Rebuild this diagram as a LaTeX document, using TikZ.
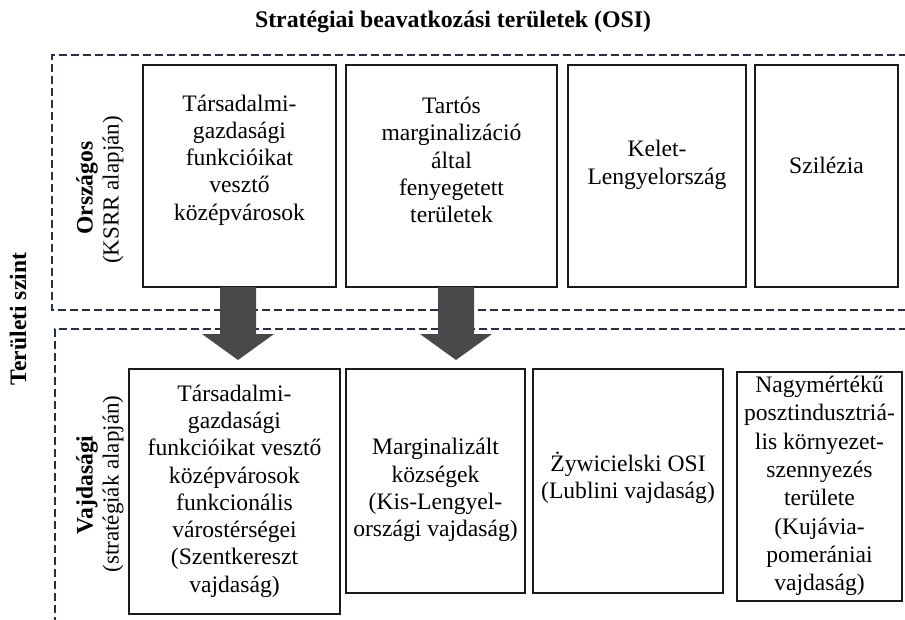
\documentclass[tikz,border=0pt]{standalone}
\usepackage{fontspec}
\setmainfont{Liberation Serif}
\definecolor{zonecol}{HTML}{22304E}
\definecolor{arrowcol}{HTML}{48494B}
\definecolor{boxcol}{HTML}{1A1A1A}
\begin{document}
\begin{tikzpicture}[x=1pt,y=-1pt,
  box/.style={draw=boxcol, line width=1.6pt, inner sep=0pt},
  txt/.style={align=center, font=\fontsize{23.6}{27.3}\selectfont, inner sep=0pt},
  ttl/.style={align=center, font=\fontsize{23.8}{27}\selectfont\bfseries, inner sep=0pt},
  side/.style={font=\fontsize{23}{27}\selectfont, inner sep=0pt, rotate=90},
  sidebf/.style={font=\fontsize{23.6}{27}\selectfont\bfseries, inner sep=0pt, rotate=90},
  zone/.style={draw=zonecol, line width=2.8pt, dash pattern=on 8pt off 4pt},
  bigarrow/.style={fill=arrowcol}
]
\useasboundingbox (0,0) rectangle (905,619);

% title
\node[ttl] (title) at (453,22) {Stratégiai beavatkozási területek (OSI)};

% dashed zones
\coordinate (zu1) at (907,55);
\coordinate (zu2) at (52,55);
\coordinate (zu3) at (52,310);
\coordinate (zu4) at (907,310);
\draw[zone] (zu1) -- (zu2) -- (zu3) -- (zu4);
\coordinate (zl1) at (907,329);
\coordinate (zl2) at (55,329);
\coordinate (zl3) at (55,622);
\draw[zone] (zl1) -- (zl2) -- (zl3);

% side labels
\node[sidebf] (szint) at (18,319) {Területi szint};
\node[sidebf] (orsz) at (87,188) {Országos};
\node[side] (ksrr) at (113,190) {(KSRR alapján)};
\node[sidebf] (vajd) at (87,485) {Vajdasági};
\node[side] (strat) at (113,484) {(stratégiák alapján)};

% upper boxes
\node[box, minimum width=193pt, minimum height=222pt] (u1) at (239.5,176) {};
\node[box, minimum width=211pt, minimum height=222pt] (u2) at (451.5,176) {};
\node[box, minimum width=178pt, minimum height=222pt] (u3) at (657,176) {};
\node[box, minimum width=143pt, minimum height=222pt] (u4) at (826.5,176) {};
\node[txt] (tu1) at (239.5,160) {Társadalmi-\\gazdasági\\funkcióikat\\vesztő\\középvárosok};
\node[txt] (tu2) at (451.5,160) {Tartós\\marginalizáció\\által\\fenyegetett\\területek};
\node[txt] (tu3) at (657,165) {Kelet-\\Lengyelország};
\node[txt] (tu4) at (826.5,165) {Szilézia};

% lower boxes
\node[box, minimum width=211pt, minimum height=245pt] (l1) at (234.5,491.5) {};
\node[box, minimum width=179pt, minimum height=224pt] (l2) at (435.5,481) {};
\node[box, minimum width=190pt, minimum height=224pt] (l3) at (628,481) {};
\node[box, minimum width=165pt, minimum height=229pt] (l4) at (819.5,486.5) {};
\node[txt] (tl1) at (234.5,491) {Társadalmi-\\gazdasági\\funkcióikat vesztő\\középvárosok\\funkcionális\\várostérségei\\(Szentkereszt\\vajdaság)};
\node[txt] (tl2) at (435.5,490) {Marginalizált\\községek\\(Kis-Lengyel-\\országi vajdaság)};
\node[txt] (tl3) at (628,478) {Żywicielski OSI\\(Lublini vajdaság)};
\node[txt, font=\fontsize{23.6}{28.3}\selectfont] (tl4) at (819.5,486) {Nagymértékű\\posztindusztriá-\\lis környezet-\\szennyezés\\területe\\(Kujávia-\\pomerániai\\vajdaság)};

% block arrows
\coordinate (a1) at (238,287);
\coordinate (a2) at (456,287);
\fill[bigarrow] (a1) ++(-18,0) -- ++(36,0) -- ++(0,47) -- ++(18,0) -- (238,360) -- (202,334) -- (220,334) -- cycle;
\fill[bigarrow] (a2) ++(-18,0) -- ++(36,0) -- ++(0,47) -- ++(18,0) -- (456,360) -- (420,334) -- (438,334) -- cycle;
\end{tikzpicture}
\end{document}
